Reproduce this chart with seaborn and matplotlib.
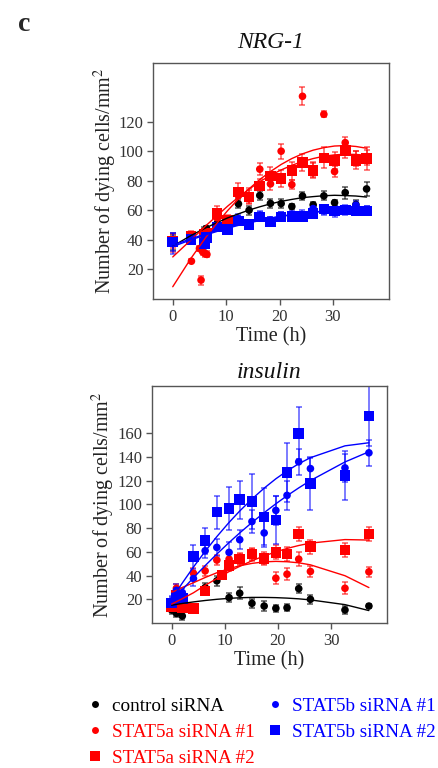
import numpy as np
import pandas as pd
import matplotlib.pyplot as plt
import seaborn as sns
from matplotlib.lines import Line2D

sns.set_theme(style="ticks")
plt.rcParams["font.family"] = ["Liberation Serif", "DejaVu Serif"]
plt.rcParams["mathtext.fontset"] = "stix"

# ---------------- NRG-1 data ----------------
nrg_t = [0, 3.4, 5.9, 6.3, 8.3, 10.3, 12.3, 14.3, 16.3, 18.3, 20.3, 22.3,
         24.3, 26.3, 28.3, 30.3, 32.3, 34.3, 36.3]
nrg_ctrl = [38.5, 41.0, 46.0, 47.8, 51.0, 53.0, 64.5, 60.2, 70.2, 64.8, 64.7,
            62.7, 69.8, 63.8, 69.9, 65.3, 72.1, 64.0, 74.6]
nrg_ctrl_err = [5, 3, 3, 2, 3, 3, 3, 3, 3, 3, 3, 2, 3, 2, 3, 2, 4, 3, 5]

nrg_5a1_t = [0, 3.5, 5.0, 5.3, 5.6, 6.0, 6.4, 8.3, 10.3, 12.3, 14.3, 16.3,
             18.3, 20.3, 22.3, 24.3, 26.3, 28.3, 30.3, 32.3, 34.3, 36.3]
nrg_5a1 = [38.0, 25.6, 34.2, 12.8, 32.0, 30.8, 30.2, 55.0, 48.5, 70.0, 70.0,
           88.0, 78.0, 100.2, 77.5, 137.4, 88.0, 125.2, 86.4, 106.0, 95.0, 96.0]
nrg_5a1_err = [6, 1.5, 2, 3, 2, 2, 2, 4, 2, 5, 5, 4, 4, 5, 3, 6, 5, 2, 4, 4, 5, 5]

nrg_5a2 = [39.4, 42.8, 43.7, 44.4, 57.9, 53.2, 72.6, 69.2, 76.5, 83.5, 81.7,
           87.0, 92.6, 87.3, 95.7, 93.8, 100.8, 94.0, 95.2]
nrg_5a2_err = [5, 3, 4, 3, 5, 4, 6, 5, 5, 6, 6, 6, 6, 5, 7, 6, 5, 6, 8]

nrg_5b1 = [37.6, 41.0, 39.5, 42.5, 49.4, 48.2, 54.5, 51.0, 56.6, 53.5, 56.1,
           57.5, 57.0, 61.3, 60.2, 58.8, 60.7, 63.6, 59.7]
nrg_5b1_err = [7, 3, 3, 3, 3, 2, 3, 2, 3, 2, 3, 2, 3, 3, 3, 3, 3, 3, 3]

nrg_5b2 = [38.5, 40.4, 37.5, 41.5, 48.9, 47.1, 53.0, 50.3, 55.7, 52.3, 55.7,
           56.1, 56.1, 57.9, 60.9, 59.7, 60.2, 59.7, 59.7]
nrg_5b2_err = [6, 3, 4, 3, 3, 2, 3, 3, 3, 3, 3, 3, 3, 3, 3, 3, 3, 3, 3]

# fitted curves
nrg_fit_t = [0, 3.4, 6.3, 8.3, 10.3, 12.3, 14.3, 16.3, 18.3, 20.3, 22.3,
             24.3, 26.3, 28.3, 30.3, 32.3, 34.3, 36.3]
nrg_fit_ctrl = [35.8, 43.0, 48.4, 51.8, 55.0, 57.7, 60.3, 62.5, 64.5, 66.2,
                67.5, 68.7, 69.4, 70.0, 70.3, 70.1, 69.8, 69.1]
nrg_fit_5a1 = [8.3, 27.5, 42.3, 51.5, 60.0, 67.8, 74.7, 81.0, 86.4, 91.2,
               95.2, 98.4, 100.9, 102.6, 103.7, 104.0, 103.4, 102.2]
nrg_fit_5a2 = [28.5, 40.0, 50.0, 56.5, 63.0, 69.0, 74.5, 79.5, 83.8, 87.5,
               90.6, 93.2, 95.2, 96.8, 97.7, 98.1, 98.0, 97.4]
nrg_fit_5b1 = [35.5, 40.1, 43.6, 45.8, 48.0, 49.9, 51.6, 53.2, 54.7, 56.0,
               57.1, 58.1, 58.9, 59.6, 60.0, 60.4, 60.6, 60.6]
nrg_fit_5b2 = [36.5, 40.8, 44.3, 46.5, 48.5, 50.4, 52.0, 53.5, 54.9, 56.1,
               57.2, 58.1, 58.8, 59.4, 59.8, 60.1, 60.2, 60.2]

# ---------------- insulin data ----------------
ins_t = [0, 0.9, 2.0, 4.1, 6.3, 8.5, 10.8, 12.8, 15.1, 17.4, 19.6, 21.7,
         23.9, 26.1, 32.6, 37.1]
ins_ctrl = [11.0, 8.1, 5.9, 13.0, 29.9, 35.6, 21.4, 25.1, 16.6, 14.3, 12.4,
            12.9, 29.0, 20.0, 11.0, 14.3]
ins_ctrl_err = [3, 3, 3, 3, 4, 4, 4, 5, 4, 4, 3, 3, 4, 4, 3, 2]

ins_5a1 = [14.0, 29.3, 22.0, 42.0, 44.0, 53.1, 53.9, 53.9, 57.3, 53.1, 37.8,
           41.2, 53.9, 43.5, 29.3, 43.2]
ins_5a1_err = [3, 4, 3, 4, 4, 4, 4, 5, 5, 4, 5, 5, 6, 5, 5, 4]

ins_5a2_t = [0, 0.9, 2.0, 4.1, 6.3, 9.5, 10.8, 12.8, 15.1, 17.4, 19.6, 21.7,
             23.9, 26.1, 32.6, 37.1]
ins_5a2 = [13.5, 23.4, 12.9, 12.1, 27.0, 40.6, 48.3, 53.9, 58.2, 54.5, 59.6,
           58.2, 75.1, 64.4, 61.6, 75.1]
ins_5a2_err = [3, 4, 3, 3, 3, 3, 4, 4, 5, 5, 6, 6, 6, 6, 6, 6]

ins_5b1 = [18.6, 27.6, 25.7, 37.5, 61.0, 63.8, 59.6, 70.3, 85.6, 76.0, 95.0,
           107.7, 136.0, 130.3, 130.9, 143.6]
ins_5b1_err = [4, 5, 4, 6, 6, 7, 9, 8, 10, 12, 12, 12, 11, 10, 12, 11]

ins_5b2 = [17.0, 21.5, 20.8, 55.9, 69.5, 93.5, 96.4, 104.0, 102.6, 89.6, 87.0,
           126.9, 160.0, 117.6, 124.4, 174.7]
ins_5b2_err = [5, 8, 6, 10, 11, 14, 18, 16, 23, 24, 20, 25, 22, 22, 21, 25]

ins_fit_ctrl = [15.0, 15.7, 16.5, 17.8, 19.0, 20.0, 20.8, 21.3, 21.6, 21.6,
                21.4, 21.0, 20.4, 19.5, 15.5, 10.5]
ins_fit_5a1 = [26.0, 27.5, 30.0, 34.0, 38.4, 42.4, 45.9, 48.3, 50.3, 51.6,
               52.0, 51.7, 50.8, 49.1, 39.9, 29.9]
ins_fit_5a2 = [16.0, 18.0, 20.5, 25.5, 31.8, 37.5, 43.4, 47.8, 52.5, 56.6,
               60.0, 62.9, 65.4, 67.4, 70.4, 70.0]
ins_fit_5b1 = [18.0, 22.6, 28.1, 38.2, 48.4, 58.2, 67.9, 76.0, 84.8, 93.1,
               100.6, 107.4, 114.0, 120.2, 135.9, 144.5]
ins_fit_5b2 = [20.0, 26.2, 33.7, 47.2, 60.5, 72.9, 84.9, 94.5, 104.6, 113.8,
               121.7, 128.3, 134.4, 139.5, 149.5, 152.1]

labels = ["control siRNA", "STAT5a siRNA #1", "STAT5a siRNA #2",
          "STAT5b siRNA #1", "STAT5b siRNA #2"]
colors = ["black", "#ff0000", "#ff0000", "#0000ff", "#0000ff"]
markers = ["o", "o", "s", "o", "s"]


def draw_series(ax, t, v, err, color, marker):
    ax.errorbar(t, v, yerr=err, fmt="none", ecolor=color, alpha=0.65,
                elinewidth=1.1, capsize=2, capthick=1.1, zorder=2)
    size = 30 if marker == "o" else 58
    sns.scatterplot(x=t, y=v, marker=marker, s=size, color=color,
                    edgecolor="none", linewidth=0, ax=ax, zorder=3, legend=False)


def draw_fit(ax, t, v, color):
    sns.lineplot(x=t, y=v, color=color, linewidth=1.0, ax=ax,
                 estimator=None, sort=False, zorder=4)


def style_axes(ax, ymax, yticks, title, pad, label_x):
    ax.set_xlim(-3.7, 40.5)
    ax.set_ylim(0, ymax)
    ax.set_xticks([0, 10, 20, 30])
    ax.set_yticks(yticks)
    ax.tick_params(direction="out", length=4, width=1, color="#555555",
                   labelsize=12, labelcolor="#333333", pad=3)
    for sp in ax.spines.values():
        sp.set_visible(True)
        sp.set_color("#555555")
        sp.set_linewidth(1)
    ax.set_xlabel("Time (h)", fontsize=14.5, color="#222222", labelpad=2)
    ax.set_ylabel("Number of dying cells/mm$^2$", fontsize=14.5,
                  color="#222222")
    ax.yaxis.set_label_coords(label_x, 0.5)
    ax.set_title(title, fontsize=17, style="italic", pad=pad, color="#111111")


fig = plt.figure(figsize=(4.39, 7.68), dpi=100)
ax1 = fig.add_axes([0.3485, 0.6107, 0.5376, 0.3073])
ax2 = fig.add_axes([0.3462, 0.1888, 0.5353, 0.3086])

# NRG-1
draw_series(ax1, nrg_t, nrg_ctrl, nrg_ctrl_err, colors[0], markers[0])
draw_series(ax1, nrg_5a1_t, nrg_5a1, nrg_5a1_err, colors[1], markers[1])
draw_series(ax1, nrg_t, nrg_5a2, nrg_5a2_err, colors[2], markers[2])
draw_series(ax1, nrg_t, nrg_5b1, nrg_5b1_err, colors[3], markers[3])
draw_series(ax1, nrg_t, nrg_5b2, nrg_5b2_err, colors[4], markers[4])
draw_fit(ax1, nrg_fit_t, nrg_fit_ctrl, colors[0])
draw_fit(ax1, nrg_fit_t, nrg_fit_5a1, colors[1])
draw_fit(ax1, nrg_fit_t, nrg_fit_5a2, colors[2])
draw_fit(ax1, nrg_fit_t, nrg_fit_5b1, colors[3])
draw_fit(ax1, nrg_fit_t, nrg_fit_5b2, colors[4])
style_axes(ax1, 160, [20, 40, 60, 80, 100, 120], "NRG-1", 11, -0.146)

# insulin
draw_series(ax2, ins_t, ins_ctrl, ins_ctrl_err, colors[0], markers[0])
draw_series(ax2, ins_t, ins_5a1, ins_5a1_err, colors[1], markers[1])
draw_series(ax2, ins_5a2_t, ins_5a2, ins_5a2_err, colors[2], markers[2])
draw_series(ax2, ins_t, ins_5b1, ins_5b1_err, colors[3], markers[3])
draw_series(ax2, ins_t, ins_5b2, ins_5b2_err, colors[4], markers[4])
draw_fit(ax2, ins_t, ins_fit_ctrl, colors[0])
draw_fit(ax2, ins_t, ins_fit_5a1, colors[1])
draw_fit(ax2, ins_t, ins_fit_5a2, colors[2])
draw_fit(ax2, ins_t, ins_fit_5b1, colors[3])
draw_fit(ax2, ins_t, ins_fit_5b2, colors[4])
style_axes(ax2, 200, [20, 40, 60, 80, 100, 120, 140, 160], "insulin", 6, -0.148)

fig.text(0.04, 0.968, "c", fontsize=20, fontweight="bold", ha="left", va="center")

handles = [Line2D([], [], linestyle="none", marker=m, color=c,
                  markersize=(5 if m == "o" else 6.5), markeredgewidth=0)
           for m, c in zip(markers, colors)]
leg = fig.legend(handles, labels, ncol=2, loc="upper left",
                 bbox_to_anchor=(0.198, 0.092), frameon=False, fontsize=13.8,
                 handlelength=0.8, handletextpad=0.5, columnspacing=0.65,
                 labelspacing=0.45, borderaxespad=0, borderpad=0)
for txt, c in zip(leg.get_texts(), colors):
    txt.set_color(c)

fig.savefig("out.png", dpi=100)
